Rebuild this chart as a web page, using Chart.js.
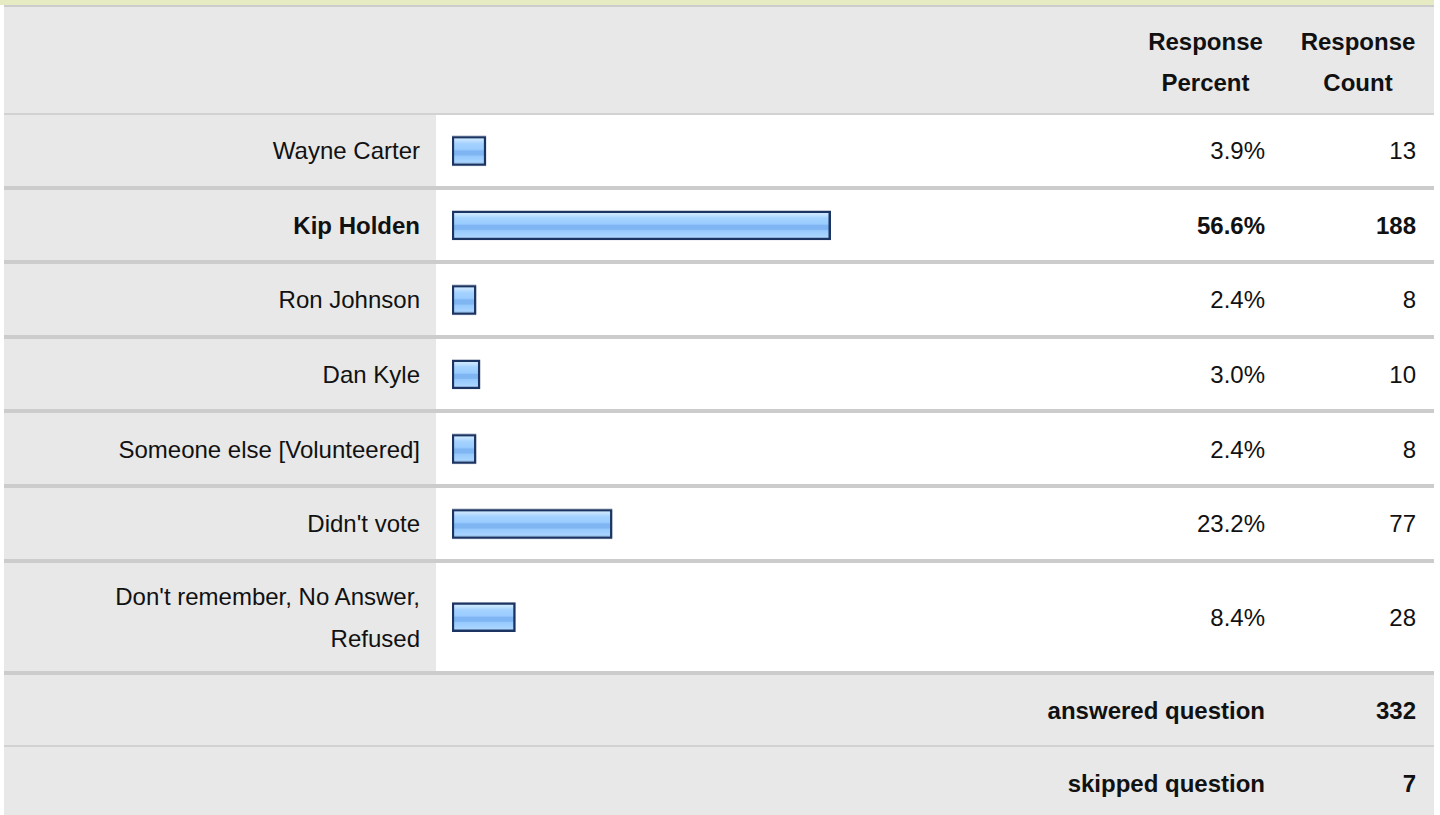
<!DOCTYPE html>
<html>
<head>
<meta charset="utf-8">
<title>Survey responses</title>
<script src="https://cdn.jsdelivr.net/npm/chart.js@4.4.0/dist/chart.umd.min.js"></script>
<style>
    body {
        margin: 0;
        background: #fff;
        font-family: "Liberation Sans", Arial, sans-serif;
        font-size: 24px;
        color: #111;
    }
    #strip {
        position: absolute;
        left: 0;
        top: 0;
        width: 1434px;
        height: 5px;
        background: #e6ebc3;
    }
    #tbl {
        position: absolute;
        left: 4px;
        top: 5px;
        width: 1430px;
    }
    .row {
        display: flex;
        border-bottom: 4px solid #ccc;
    }
    .row > div {
        display: flex;
        align-items: center;
        box-sizing: border-box;
    }
    .head {
        height: 106px;
        background: #e8e8e8;
        border-top: 2px solid #ccc;
        border-bottom: 2px solid #d2d2d2;
        font-weight: bold;
    }
    .head .pct, .head .cnt {
        justify-content: center;
        text-align: center;
        padding: 4px 0 0 0;
        line-height: 41px;
    }
    .data { height: 70.6px; }
    .data.tall { height: 108.4px; }
    .lbl {
        width: 432px;
        justify-content: flex-end;
        text-align: right;
        padding: 2px 16px 0 20px;
        background: #e8e8e8;
        line-height: 42px;
    }
    .bar {
        width: 693px;
        position: relative;
    }
    .pct {
        width: 153px;
        justify-content: flex-end;
        padding: 2px 17px 0 0;
    }
    .cnt {
        width: 152px;
        justify-content: flex-end;
        padding: 2px 18px 0 0;
    }
    .wrap {
        position: absolute;
        left: 0; top: 0; right: 0; bottom: 0;
    }
    .top { font-weight: bold; }
    .foot {
        height: 70.3px;
        background: #e8e8e8;
        font-weight: bold;
        border-bottom: 2px solid #d2d2d2;
    }
    .foot .span3 {
        width: 1278px;
        justify-content: flex-end;
        padding: 2px 17px 0 0;
    }
    .foot.last { border-bottom: none; height: 72px; }
</style>
</head>
<body>
<div id="strip"></div>
<div id="tbl"></div>

<script>
const answers = [
    'Wayne Carter',
    'Kip Holden',
    'Ron Johnson',
    'Dan Kyle',
    'Someone else [Volunteered]',
    "Didn't vote",
    "Don't remember, No Answer, Refused"
];
const percents = [3.9, 56.6, 2.4, 3.0, 2.4, 23.2, 8.4];
const counts = [13, 188, 8, 10, 8, 77, 28];
const answeredCount = 332;
const skippedCount = 7;

// bars in the original start a little before zero
const axisFloor = -1.3;
const axisMax = 100;

const tbl = document.getElementById('tbl');
const topIndex = percents.indexOf(Math.max(...percents));

function addCell(row, cls, html) {
    const cell = document.createElement('div');
    cell.className = cls;
    cell.innerHTML = html;
    row.appendChild(cell);
    return cell;
}

// header
const head = document.createElement('div');
head.className = 'row head';
addCell(head, 'lbl', '');
addCell(head, 'bar', '');
addCell(head, 'pct', 'Response<br>Percent');
addCell(head, 'cnt', 'Response<br>Count');
tbl.appendChild(head);

function barFill(context) {
    const chart = context.chart;
    const area = chart.chartArea;
    if (!area) return '#99ccff';
    const mid = (area.top + area.bottom) / 2;
    const g = chart.ctx.createLinearGradient(0, mid - 14.5, 0, mid + 14.5);
    g.addColorStop(0, '#d8edff');
    g.addColorStop(0.14, '#c4e3ff');
    g.addColorStop(0.24, '#a6d3ff');
    g.addColorStop(0.46, '#99ccff');
    g.addColorStop(0.5, '#7fb5f2');
    g.addColorStop(0.64, '#7fb5f2');
    g.addColorStop(0.68, '#96c9fd');
    g.addColorStop(0.88, '#a8d5ff');
    g.addColorStop(1, '#bfe0ff');
    return g;
}

const charts = [];

answers.forEach((answer, i) => {
    const row = document.createElement('div');
    row.className = 'row data' + (i === answers.length - 1 ? ' tall' : '');
    const bold = i === topIndex ? ' top' : '';
    addCell(row, 'lbl' + bold, answer);
    const barCell = addCell(row, 'bar', '');
    addCell(row, 'pct' + bold, percents[i].toFixed(1) + '%');
    addCell(row, 'cnt' + bold, counts[i]);
    tbl.appendChild(row);

    const wrap = document.createElement('div');
    wrap.className = 'wrap';
    const canvas = document.createElement('canvas');
    wrap.appendChild(canvas);
    barCell.appendChild(wrap);

    charts.push(new Chart(canvas, {
        type: 'bar',
        data: {
            labels: [answer],
            datasets: [{
                data: [percents[i]],
                base: axisFloor,
                backgroundColor: barFill,
                borderColor: '#1b3461',
                borderWidth: 2.5,
                borderSkipped: false,
                barThickness: 29
            }]
        },
        options: {
            indexAxis: 'y',
            responsive: true,
            maintainAspectRatio: false,
            animation: false,
            layout: {
                padding: { left: 16, right: 14.5, top: 0, bottom: 0 }
            },
            plugins: {
                legend: { display: false },
                tooltip: { enabled: false }
            },
            scales: {
                x: { display: false, min: axisFloor, max: axisMax },
                y: { display: false }
            }
        }
    }));
});

// totals
const answered = document.createElement('div');
answered.className = 'row foot';
addCell(answered, 'span3', 'answered question');
addCell(answered, 'cnt', answeredCount);
tbl.appendChild(answered);

const skipped = document.createElement('div');
skipped.className = 'row foot last';
addCell(skipped, 'span3', 'skipped question');
addCell(skipped, 'cnt', skippedCount);
tbl.appendChild(skipped);
</script>
</body>
</html>
